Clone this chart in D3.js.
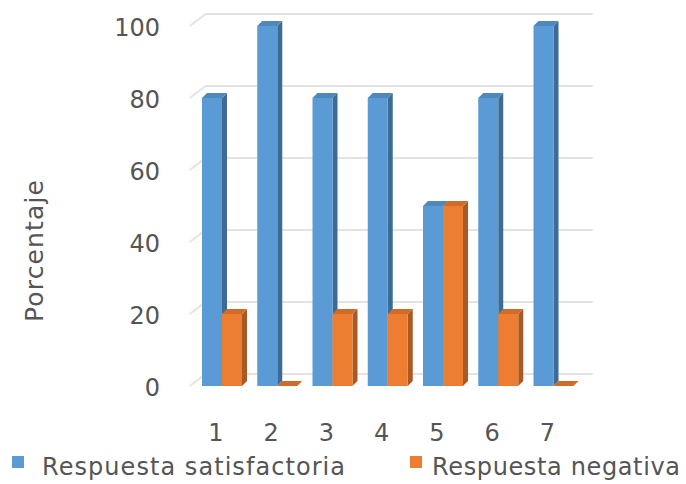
<!DOCTYPE html>
<html>
<head>
<meta charset="utf-8">
<script src="https://cdn.jsdelivr.net/npm/d3@7"></script>
<style>
  body { margin: 0; background: #fff; }
  text { font-family: "DejaVu Sans", sans-serif; fill: #555; }
</style>
</head>
<body>
<div id="chart"></div>
<script>
const categories = ['1', '2', '3', '4', '5', '6', '7'];
const seriesNames = ['Respuesta satisfactoria', 'Respuesta negativa'];
const satisfactoria = [80, 100, 80, 80, 50, 80, 100];
const negativa = [20, 0, 20, 20, 50, 20, 0];
const yTicks = [0, 20, 40, 60, 80, 100];

const width = 686;
const height = 484;
// depth offsets for the fake 3d look
const wall = { dx: 16, dy: -12 };
const depth = { dx: 5, dy: -5 };

const colors = [
  { front: '#5b9bd5', side: '#3e6b94', top: '#4f88bb' },
  { front: '#ed7d31', side: '#a95a24', top: '#d06c2a' },
];

const svg = d3.select('#chart').append('svg')
  .attr('width', width)
  .attr('height', height);

const x = d3.scaleBand()
  .domain(categories)
  .range([186.75, 588.75])
  .padding(0.276);

const xSub = d3.scaleBand()
  .domain([0, 1])
  .range([0, x.bandwidth()]);

const y = d3.scaleLinear()
  .domain([0, 100])
  .range([386, 26]);

// gridlines: side wall diagonal + back wall line
const grid = svg.append('g');
yTicks.forEach((t) => {
  const fy = y(t);
  const x0 = x.range()[0] + 3;
  grid.append('path')
    .attr('d', `M${x0},${fy} L${x0 + wall.dx},${fy + wall.dy} L${x.range()[1] + 4},${fy + wall.dy}`)
    .attr('fill', 'none')
    .attr('stroke', '#e3e3e3')
    .attr('stroke-width', 2);
});

// y tick labels
svg.append('g').selectAll('text')
  .data(yTicks)
  .enter().append('text')
  .attr('x', 160)
  .attr('y', d => y(d) + 3)
  .attr('text-anchor', 'end')
  .attr('dominant-baseline', 'middle')
  .style('font-size', '24px')
  .text(d => d);

// bars
const values = [satisfactoria, negativa];
const bars = svg.append('g');
categories.forEach((c, i) => {
  // draw orange after blue so its front covers blue side
  values.forEach((vals, s) => {
    const v = vals[i];
    const x0 = x(c) + xSub(s);
    const w = xSub.bandwidth();
    const yTop = y(v);
    const yBase = y(0);
    const col = colors[s];
    const g = bars.append('g');
    // side face
    g.append('path')
      .attr('d', `M${x0 + w},${yTop} L${x0 + w + depth.dx},${yTop + depth.dy} L${x0 + w + depth.dx},${yBase + depth.dy} L${x0 + w},${yBase} Z`)
      .attr('fill', col.side);
    // top face
    g.append('path')
      .attr('d', `M${x0},${yTop} L${x0 + depth.dx},${yTop + depth.dy} L${x0 + w + depth.dx},${yTop + depth.dy} L${x0 + w},${yTop} Z`)
      .attr('fill', col.top);
    // front face
    g.append('rect')
      .attr('x', x0)
      .attr('y', yTop)
      .attr('width', w)
      .attr('height', yBase - yTop)
      .attr('fill', col.front);
  });
});

// x labels
svg.append('g').selectAll('text')
  .data(categories)
  .enter().append('text')
  .attr('x', d => x(d) + x.bandwidth() / 2 - 6)
  .attr('y', 434)
  .attr('text-anchor', 'middle')
  .attr('dominant-baseline', 'middle')
  .style('font-size', '24px')
  .text(d => d);

// y title
svg.append('text')
  .attr('transform', 'translate(36,251) rotate(-90)')
  .attr('text-anchor', 'middle')
  .attr('dominant-baseline', 'middle')
  .style('font-size', '25px')
  .attr('textLength', 142)
  .text('Porcentaje');

// legend
const legendX = [12, 410];
const legendLen = [303, 248];
const legend = svg.append('g');
seriesNames.forEach((name, s) => {
  legend.append('rect')
    .attr('x', legendX[s])
    .attr('y', 456)
    .attr('width', 12)
    .attr('height', 12)
    .attr('fill', colors[s].front);
  legend.append('text')
    .attr('x', legendX[s] + (s === 0 ? 30 : 22))
    .attr('y', 468)
    .attr('dominant-baseline', 'middle')
    .style('font-size', '24px')
    .attr('textLength', legendLen[s])
    .text(name);
});
</script>
</body>
</html>
